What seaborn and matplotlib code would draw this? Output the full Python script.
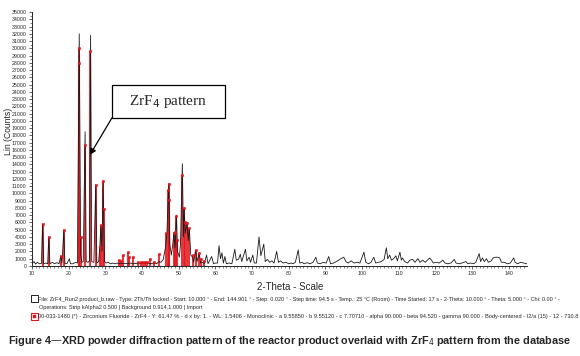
import numpy as np
import pandas as pd
import matplotlib
matplotlib.use("Agg")
import matplotlib.pyplot as plt
from matplotlib.patches import Rectangle
import seaborn as sns

# measured scan (vertices of the trace: 2-theta, counts)
scan_2theta = [
    10.0, 10.6, 11.0, 11.5, 12.0, 12.6, 12.9, 13.2, 13.8, 14.3, 14.6, 14.9, 15.6, 16.2, 16.8,
    17.4, 17.9, 18.2, 18.7, 19.0, 19.6, 20.2, 20.5, 21.2, 21.9, 22.4, 22.9, 23.3, 23.6, 24.0,
    24.5, 24.8, 25.3, 25.7, 26.0, 26.3, 26.9, 27.4, 27.7, 28.2, 28.5, 28.8, 29.1, 29.4, 29.8,
    30.2, 30.8, 31.4, 32.0, 32.6, 33.2, 33.7, 34.2, 34.9, 35.5, 36.1, 36.8, 37.6, 38.4, 39.2,
    40.0, 40.8, 41.6, 42.4, 43.2, 44.0, 44.6, 45.2, 45.8, 46.4, 46.8, 47.3, 47.6, 48.0, 48.4,
    48.7, 49.0, 49.4, 49.7, 50.2, 50.5, 51.0, 51.3, 51.5, 51.8, 52.3, 52.6, 52.9, 53.3, 53.8,
    54.1, 54.6, 55.0, 55.6, 56.0, 56.6, 57.0, 57.6, 58.0, 59.0, 59.5, 60.0, 60.6, 61.0, 61.4,
    61.8, 62.2, 62.6, 63.0, 63.8, 64.5, 65.3, 65.7, 66.3, 66.8, 67.2, 68.2, 68.6, 69.2, 69.6,
    70.2, 70.6, 71.2, 71.9, 72.4, 73.2, 73.6, 74.2, 74.8, 75.4, 76.0, 76.7, 77.2, 77.8, 78.4,
    79.2, 80.0, 80.6, 81.2, 81.8, 82.6, 83.0, 83.6, 84.2, 85.0, 85.8, 86.6, 87.4, 87.8, 88.6,
    89.4, 90.2, 90.9, 91.4, 92.2, 93.0, 93.6, 94.2, 95.0, 95.6, 96.2, 97.0, 97.8, 98.6, 99.4,
    100.5, 101.0, 101.8, 102.4, 103.2, 103.7, 104.4, 105.2, 106.0, 106.6, 107.0, 107.5, 108.0, 108.6, 109.2,
    109.6, 110.3, 110.7, 111.0, 111.6, 112.4, 113.0, 113.8, 114.4, 115.2, 115.8, 116.5, 117.2, 118.4, 118.9,
    119.4, 120.2, 121.0, 122.0, 122.6, 123.4, 124.2, 125.1, 125.6, 126.4, 127.2, 128.3, 128.8, 129.6, 130.4,
    131.0, 131.9, 132.3, 132.8, 133.3, 133.9, 134.4, 135.2, 135.7, 136.4, 137.0, 137.5, 138.0, 138.8, 139.6,
    140.4, 141.3, 141.7, 142.4, 143.2, 144.0, 144.9,
]
scan_counts = [
    300, 600, 250, 500, 300, 350, 5800, 300, 400, 300, 4000, 300, 500, 300, 450,
    300, 1400, 400, 4900, 300, 350, 1000, 300, 300, 500, 400, 32000, 1500, 500, 600,
    18500, 600, 500, 700, 31800, 600, 500, 11200, 400, 600, 2600, 5600, 2000, 11700, 600,
    400, 500, 300, 400, 300, 400, 300, 400, 300, 350, 300, 400, 300, 350, 300,
    400, 300, 350, 300, 400, 300, 600, 500, 900, 2500, 4500, 11400, 3000, 1500, 3000,
    4600, 2500, 7000, 2000, 1200, 3000, 14100, 4000, 8000, 4500, 6000, 3500, 5200, 1500, 1200,
    500, 2200, 600, 1800, 400, 500, 300, 1500, 300, 1300, 300, 400, 400, 2800, 1000,
    1800, 400, 1300, 300, 400, 300, 2300, 800, 900, 1600, 600, 2300, 700, 1200, 500,
    1500, 400, 400, 4000, 1400, 3000, 600, 900, 500, 700, 400, 2000, 500, 700, 400,
    500, 300, 400, 300, 500, 2200, 400, 500, 300, 450, 300, 500, 1200, 400, 300,
    500, 400, 1300, 300, 400, 600, 800, 1000, 1200, 600, 400, 700, 400, 500, 400,
    1900, 500, 300, 500, 1200, 400, 500, 600, 900, 2500, 1000, 1500, 800, 1000, 1400,
    700, 1900, 800, 1100, 600, 400, 800, 900, 500, 1000, 500, 800, 500, 1100, 800,
    400, 500, 400, 800, 400, 300, 400, 900, 400, 300, 400, 600, 300, 400, 300,
    500, 1700, 600, 1100, 600, 1000, 500, 700, 1100, 1200, 1200, 1100, 500, 500, 300,
    400, 1100, 500, 300, 500, 400, 300,
]

# ZrF4 reference pattern (00-033-1480)
ref_2theta = [12.9, 14.6, 17.9, 18.7, 22.85, 22.95, 23.3, 24.5, 25.95, 27.4, 28.5, 28.75,
              29.4, 29.6, 33.7, 34.2, 34.9, 36.1, 36.5, 37.6, 39.0, 39.6, 40.2, 40.8,
              41.3, 42.2, 43.3, 44.7, 46.5, 47.2, 47.3, 47.4, 48.7, 49.0, 49.4, 49.6,
              50.95, 51.5, 51.7, 52.3, 52.8, 53.8, 54.6, 55.6, 56.2, 57.0]
ref_counts = [5800, 4000, 1400, 4900, 28000, 30000, 4000, 16700, 29700, 11100, 2600, 5600,
              11700, 7800, 800, 700, 1500, 1900, 1300, 1300, 600, 600, 600, 600,
              600, 900, 600, 1600, 4500, 10500, 11300, 9100, 4600, 4700, 6900, 3600,
              12600, 8000, 6000, 5900, 5200, 1500, 2200, 1800, 900, 700]

scan = pd.DataFrame({"two_theta": scan_2theta, "counts": scan_counts})
ref = pd.DataFrame({"two_theta": ref_2theta, "counts": ref_counts})

sns.set_style("ticks")
plt.rcParams["font.family"] = ["Liberation Sans", "DejaVu Sans"]

fig = plt.figure(figsize=(5.8, 3.56), dpi=100)
ax = fig.add_axes([0.055, 0.253, 0.854, 0.713])

red = "#e3161d"
ax.vlines(ref["two_theta"], 0, ref["counts"], color=red, lw=1.5, alpha=0.85, zorder=2)
sns.lineplot(data=scan, x="two_theta", y="counts", sort=False, color="#1a1a1a",
             lw=0.6, ax=ax, zorder=3)
sns.scatterplot(data=ref, x="two_theta", y="counts", marker="s", s=4, color=red,
                edgecolor=red, linewidth=0.4, ax=ax, zorder=4)

ax.set_xlim(10, 145)
ax.set_ylim(0, 35000)
ax.set_xticks(np.arange(10, 141, 10))
ax.set_xticks(np.arange(10, 145, 1), minor=True)
ax.set_yticks(np.arange(0, 35001, 1000))
ax.set_yticks(np.arange(0, 35001, 500), minor=True)
ax.tick_params(axis="both", which="major", labelsize=3.8, length=2.5, width=0.5, pad=1.5)
ax.tick_params(axis="both", which="minor", length=1.3, width=0.4)
sns.despine(ax=ax)
for s in ["left", "bottom"]:
    ax.spines[s].set_linewidth(0.7)

ax.set_xlabel("")
ax.set_ylabel("Lin (Counts)", fontsize=6.2)
ax.yaxis.set_label_coords(-0.039, 0.53)
fig.text(0.5, 0.193, "2-Theta - Scale", fontsize=7, ha="center", va="center")

# annotation box with arrow
ax.add_patch(Rectangle((31.8, 20400), 30.8, 4500, fc="white", ec="black", lw=0.9, zorder=5))
ax.text(47.2, 22650, "ZrF$_4$ pattern", fontsize=11, family="Liberation Serif",
        ha="center", va="center", zorder=6)
ax.annotate("", xy=(25.8, 15300), xytext=(31.8, 20400),
            arrowprops=dict(arrowstyle="-|>", color="black", lw=0.9,
                            mutation_scale=9, shrinkA=0, shrinkB=0), zorder=5)

# file info lines
fig.text(0.066, 0.160, "File: ZrF4_Run2 product_b.raw - Type: 2Th/Th locked - Start: 10.000 \u00b0 - "
         "End: 144.901 \u00b0 - Step: 0.020 \u00b0 - Step time: 94.5 s - Temp.: 25 \u00b0C (Room) - "
         "Time Started: 17 s - 2-Theta: 10.000 \u00b0 - Theta: 5.000 \u00b0 - Chi: 0.00 \u00b0 -",
         fontsize=3.95, va="center")
fig.text(0.068, 0.135, "Operations: Strip kAlpha2 0.500 | Background 0.914,1.000 | Import",
         fontsize=3.95, va="center")
fig.text(0.066, 0.110, "00-033-1480 (*) - Zirconium Fluoride - ZrF4 - Y: 61.47 % - d x by: 1. - "
         "WL: 1.5406 - Monoclinic - a 9.55850 - b 9.55120 - c 7.70710 - alpha 90.000 - "
         "beta 94.520 - gamma 90.000 - Body-centered - I2/a (15) - 12 - 730.8",
         fontsize=4.05, va="center")
fig.patches.append(Rectangle((0.054, 0.151), 0.011, 0.019, transform=fig.transFigure,
                             fc="white", ec="black", lw=0.6))
fig.patches.append(Rectangle((0.054, 0.101), 0.011, 0.019, transform=fig.transFigure,
                             fc="white", ec=red, lw=0.8))
fig.patches.append(Rectangle((0.057, 0.1065), 0.005, 0.008, transform=fig.transFigure,
                             fc=red, ec=red, lw=0.3))

fig.text(0.5, 0.042, "Figure 4\u2014XRD powder diffraction pattern of the reactor product overlaid "
         "with ZrF$_4$ pattern from the database", fontsize=7.8, fontweight="bold",
         ha="center", va="center")

fig.savefig("out.png", dpi=100)
